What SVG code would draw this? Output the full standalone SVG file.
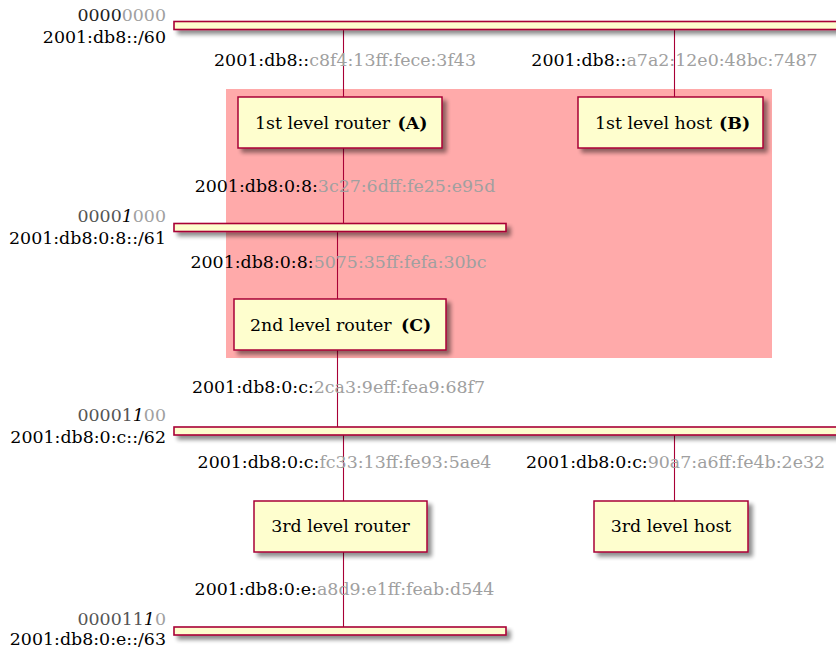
<svg xmlns="http://www.w3.org/2000/svg" width="836" height="649" viewBox="0 0 836 649">
  <style>
    text { font-family: "DejaVu Serif", "Liberation Serif", serif; font-size: 17.4px; fill: #000; }
    .net { fill: #FEFECE; stroke: #A80036; stroke-width: 1.6; }
    .node { fill: #FEFECE; stroke: #A80036; stroke-width: 1.5; }
    .link { stroke: #A80036; stroke-width: 1.1; fill: none; }
    .dim { fill: #A0A0A0; }
    .mid { fill: #555555; }
    .top { fill: #222222; }
    .bit { fill: #000; font-style: italic; }
    .b { font-weight: bold; }
    .r { text-anchor: end; }
    .c { text-anchor: middle; }
  </style>
  <defs>
    <filter id="shadow" x="-10%" y="-50%" width="130%" height="300%">
      <feGaussianBlur in="SourceAlpha" stdDeviation="2"/>
      <feOffset dx="4" dy="4" result="off"/>
      <feComponentTransfer><feFuncA type="linear" slope="0.45"/></feComponentTransfer>
      <feMerge><feMergeNode/><feMergeNode in="SourceGraphic"/></feMerge>
    </filter>
  </defs>

  <rect width="836" height="649" fill="#FFFFFF"/>

  <!-- group enclosing the first-level router/host and the second-level router -->
  <g id="group-level1">
    <rect x="226" y="89" width="546" height="269" fill="#FFAAAA"/>
  </g>

  <!-- connectors -->
  <g id="connectors">
    <line class="link" x1="343.5" y1="29" x2="343.5" y2="97"/>
    <line class="link" x1="674.5" y1="29" x2="674.5" y2="97"/>
    <line class="link" x1="343.5" y1="148" x2="343.5" y2="224"/>
    <line class="link" x1="337.5" y1="231" x2="337.5" y2="299"/>
    <line class="link" x1="337.5" y1="350" x2="337.5" y2="427"/>
    <line class="link" x1="343.5" y1="435" x2="343.5" y2="501"/>
    <line class="link" x1="674.5" y1="435" x2="674.5" y2="501"/>
    <line class="link" x1="343.5" y1="552" x2="343.5" y2="627"/>

    <text class="c" x="345" y="66">2001:db8::<tspan class="dim">c8f4:13ff:fece:3f43</tspan></text>
    <text class="c" x="674.5" y="66">2001:db8::<tspan class="dim">a7a2:12e0:48bc:7487</tspan></text>
    <text class="c" x="345" y="192">2001:db8:0:8:<tspan class="dim">3c27:6dff:fe25:e95d</tspan></text>
    <text class="c" x="338.5" y="268">2001:db8:0:8:<tspan class="dim">5075:35ff:fefa:30bc</tspan></text>
    <text class="c" x="338.5" y="393">2001:db8:0:c:<tspan class="dim">2ca3:9eff:fea9:68f7</tspan></text>
    <text class="c" x="344.5" y="468">2001:db8:0:c:<tspan class="dim">fc33:13ff:fe93:5ae4</tspan></text>
    <text class="c" x="675.5" y="468">2001:db8:0:c:<tspan class="dim">90a7:a6ff:fe4b:2e32</tspan></text>
    <text class="c" x="344.5" y="595">2001:db8:0:e:<tspan class="dim">a8d9:e1ff:feab:d544</tspan></text>
  </g>

  <!-- networks -->
  <g id="net-60">
    <rect class="net" x="174" y="21.5" width="680" height="8" filter="url(#shadow)"/>
    <text class="r" x="166" y="21"><tspan class="top">0000</tspan><tspan class="dim">0000</tspan></text>
    <text class="r" x="166" y="42.5">2001:db8::/60</text>
  </g>
  <g id="net-61">
    <rect class="net" x="174" y="223.5" width="332" height="8" filter="url(#shadow)"/>
    <text class="r" x="166" y="222"><tspan class="mid">0000</tspan><tspan class="bit">1</tspan><tspan class="dim">000</tspan></text>
    <text class="r" x="166" y="243.5">2001:db8:0:8::/61</text>
  </g>
  <g id="net-62">
    <rect class="net" x="174" y="427" width="680" height="8" filter="url(#shadow)"/>
    <text class="r" x="166" y="421"><tspan class="mid">00001</tspan><tspan class="bit">1</tspan><tspan class="dim">00</tspan></text>
    <text class="r" x="166" y="442.5">2001:db8:0:c::/62</text>
  </g>
  <g id="net-63">
    <rect class="net" x="174" y="627" width="332" height="8" filter="url(#shadow)"/>
    <text class="r" x="166" y="625"><tspan class="mid">000011</tspan><tspan class="bit">1</tspan><tspan class="dim">0</tspan></text>
    <text class="r" x="166" y="645">2001:db8:0:e::/63</text>
  </g>

  <!-- nodes -->
  <g id="router-a">
    <rect class="node" x="238" y="97" width="204" height="51" filter="url(#shadow)"/>
    <text x="255" y="128.5">1st level router <tspan class="b" x="397.5">(A)</tspan></text>
  </g>
  <g id="host-b">
    <rect class="node" x="578" y="97" width="185" height="51" filter="url(#shadow)"/>
    <text x="595" y="128.5">1st level host <tspan class="b" x="719">(B)</tspan></text>
  </g>
  <g id="router-c">
    <rect class="node" x="234" y="299" width="212" height="51" filter="url(#shadow)"/>
    <text x="250" y="330.5">2nd level router <tspan class="b" x="401">(C)</tspan></text>
  </g>
  <g id="router-3">
    <rect class="node" x="254" y="501" width="173" height="51" filter="url(#shadow)"/>
    <text class="c" x="340.5" y="532">3rd level router</text>
  </g>
  <g id="host-3">
    <rect class="node" x="594" y="501" width="154" height="51" filter="url(#shadow)"/>
    <text class="c" x="671" y="532">3rd level host</text>
  </g>
</svg>
